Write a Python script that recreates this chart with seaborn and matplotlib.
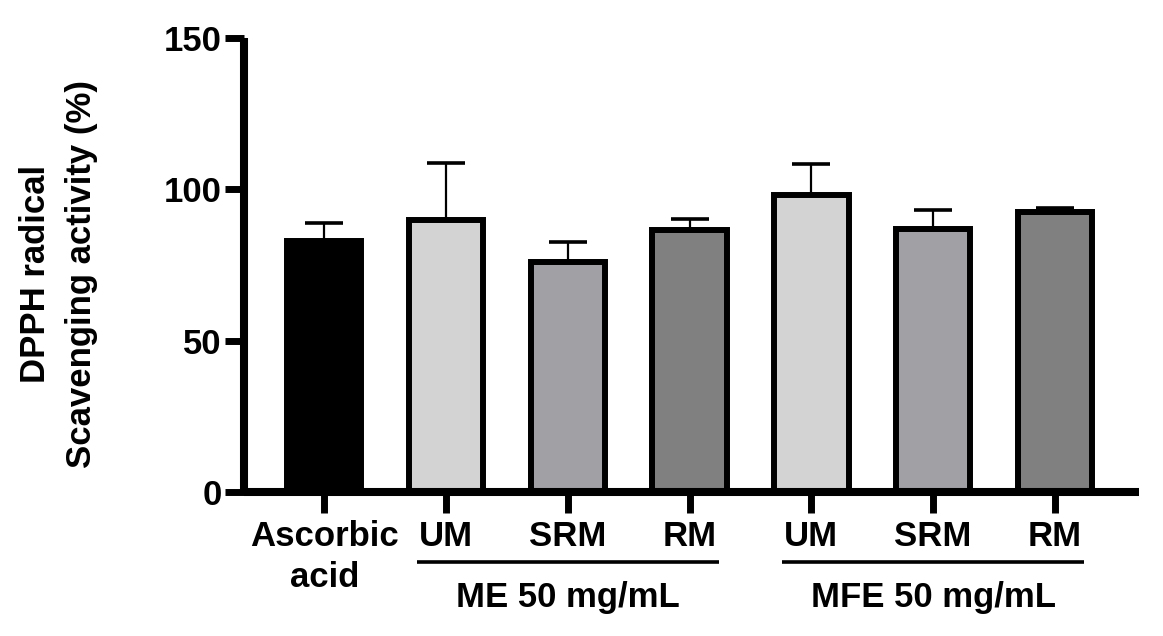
import matplotlib
matplotlib.use("Agg")
import matplotlib.pyplot as plt
import matplotlib.transforms as mtransforms
import pandas as pd
import seaborn as sns

# Values (upper SD only, GraphPad style)
samples = ['AA', 'ME_UM', 'ME_SRM', 'ME_RM', 'MFE_UM', 'MFE_SRM', 'MFE_RM']
tick_labels = ['Ascorbic\nacid', 'UM', 'SRM', 'RM', 'UM', 'SRM', 'RM']
activity = [83.0, 90.0, 76.0, 86.7, 98.0, 86.8, 92.5]
sd_upper = [5.9, 18.8, 6.7, 3.4, 10.5, 6.3, 1.3]
bar_colors = ['#000000', '#d3d3d3', '#a1a1a5', '#808080', '#d3d3d3', '#a1a1a5', '#808080']
groups = ['ME 50 mg/mL', 'MFE 50 mg/mL']
group_members = [[1, 2, 3], [4, 5, 6]]

df = pd.DataFrame({'sample': samples, 'activity': activity})

sns.set_style('ticks')
plt.rcParams['font.family'] = ['Liberation Sans', 'DejaVu Sans']
plt.rcParams['font.weight'] = 'bold'
for key in ['text.color', 'axes.labelcolor', 'xtick.color', 'ytick.color', 'axes.edgecolor']:
    plt.rcParams[key] = 'black'

fs = 25

fig = plt.figure(figsize=(11.63, 6.36), dpi=100)
ax = fig.add_axes([0.2098, 0.2264, 0.7695, 0.7136])

sns.barplot(data=df, x='sample', y='activity', hue='sample', order=samples,
            palette=bar_colors, legend=False, width=0.61, edgecolor='black',
            linewidth=4.3, errorbar=None, saturation=1, ax=ax)

# only the upper error bar
ax.errorbar(range(len(samples)), activity, yerr=[[0] * len(samples), sd_upper],
            fmt='none', ecolor='black', elinewidth=1.6, capsize=14, capthick=2.6)

ax.set_xlim(-0.66, 6.69)
ax.set_ylim(0, 150)
ax.set_yticks([0, 50, 100, 150])
ax.set_xticks(range(len(samples)))
ax.set_xticklabels(tick_labels, fontsize=fs, fontweight='bold', va='top',
                   linespacing=1.33)
ax.tick_params(axis='y', labelsize=fs, width=5, length=14, pad=2)
ax.tick_params(axis='x', width=5, length=15, pad=5)
for lab in ax.get_yticklabels():
    lab.set_fontweight('bold')

sns.despine(ax=ax)
for side in ['left', 'bottom']:
    ax.spines[side].set_linewidth(5.8)
    ax.spines[side].set_capstyle('butt')

ax.set_xlabel('')
ax.set_ylabel('DPPH radical\nScavenging activity (%)', fontsize=fs,
              fontweight='bold', linespacing=1.5)
ax.yaxis.set_label_coords(-0.163, 0.48)

# group brackets under the tick labels
trans = mtransforms.blended_transform_factory(ax.transData, ax.transAxes)
for name, members in zip(groups, group_members):
    ax.plot([members[0] - 0.24, members[-1] + 0.24], [-0.154, -0.154],
            color='black', lw=2.6, transform=trans, clip_on=False,
            solid_capstyle='butt')
    ax.text(sum(members) / len(members), -0.232, name, transform=trans,
            ha='center', va='center', fontsize=fs, fontweight='bold')

fig.savefig('out.png', dpi=100)
